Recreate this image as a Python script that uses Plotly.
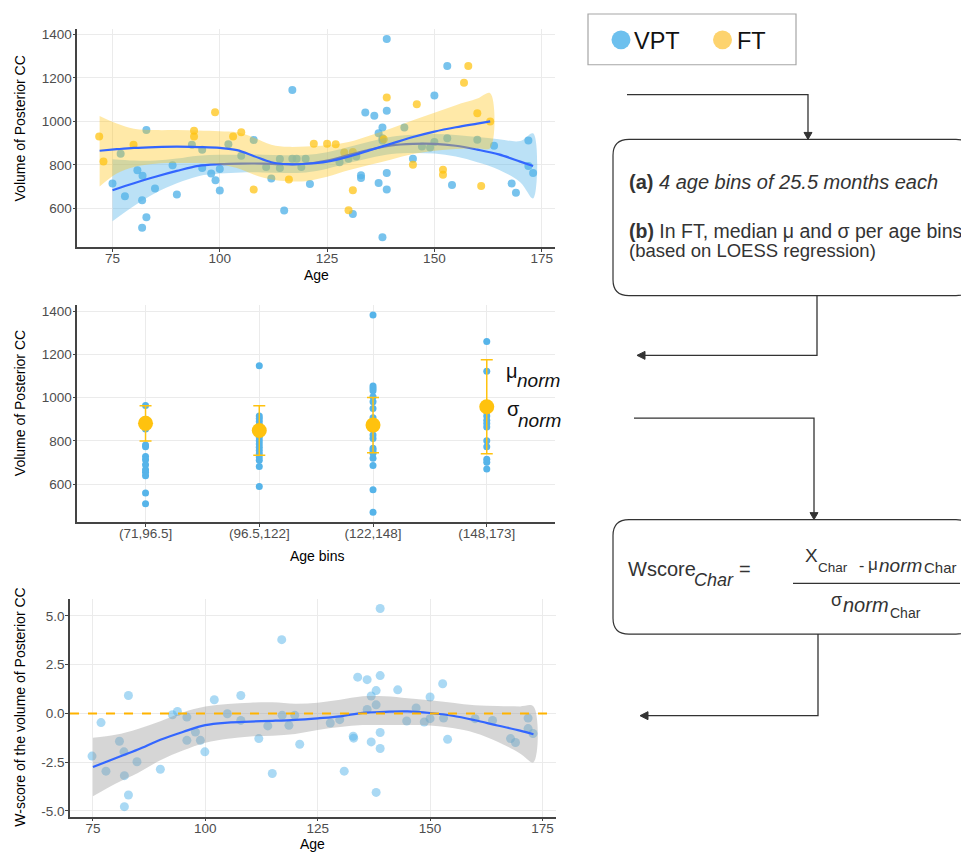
import plotly.graph_objects as go

W, H = 969, 852
OFF = 8  # page body margin: screen pixel = figure pixel + 8
def px(x): return (x - OFF) / W
def py(y): return 1 - (y - OFF) / H

# ---------------- DATA ----------------
# Top panel: raw volumes by age
vpt_age = [75.0, 76.9, 77.9, 80.8, 82.0, 81.9, 82.9, 82.9, 81.9, 84.9, 89.0, 90.0, 93.5, 95.9, 95.9,
           98.0, 99.0, 100.0, 100.0, 102.0, 105.0, 107.9, 110.8, 112.0, 114.0, 114.0, 115.0, 116.9,
           116.9, 117.9, 119.0, 120.0, 121.0, 127.9, 130.0, 131.8, 131.0, 132.9, 132.9, 133.9, 136.0,
           138.9, 137.9, 137.0, 137.9, 137.9, 138.9, 138.9, 137.0, 138.9, 137.9, 143.0, 145.0, 147.1,
           149.0, 150.0, 150.0, 153.0, 153.0, 154.1, 160.0, 163.9, 168.0, 169.0, 171.9, 171.9, 173.0]
vpt_vol = [714, 851, 656, 775, 750, 637, 961, 559, 510, 691, 798, 663, 893, 870, 785,
           760, 729, 682, 781, 895, 842, 914, 790, 737, 827, 785, 590, 1145,
           828, 828, 790, 828, 712, 812, 828, 839, 574, 752, 740, 1041, 1026,
           1049, 972, 945, 923, 912, 1379, 762, 717, 686, 467, 972, 828, 885,
           880, 905, 1119, 1255, 923, 707, 916, 888, 714, 672, 912, 795, 762]
ft_age = [71.9, 72.9, 79.9, 94.0, 94.0, 98.9, 103.1, 105.0, 107.9, 116.1, 121.9, 125.0, 127.0,
          129.0, 131.0, 131.0, 130.0, 138.9, 138.2, 145.9, 145.0, 152.0, 152.0, 156.9, 157.9,
          160.0, 163.0, 160.9]
ft_vol = [931, 816, 893, 957, 931, 1042, 931, 950, 686, 733, 897, 897, 895,
          857, 859, 683, 591, 1110, 918, 1079, 801, 778, 755, 1178, 1255,
          1038, 1000, 703]

# LOESS fits
vpt_fit_age = [75, 80, 85, 90, 95, 100, 105, 110, 115, 120, 125, 130, 135, 140, 145, 150, 155, 160, 165, 170, 173]
vpt_fit = [683, 715, 745, 772, 795, 803, 806, 806, 803, 805, 820, 845, 870, 890, 897, 897, 888, 870, 848, 815, 795]
vpt_lo = [540, 610, 670, 715, 748, 760, 765, 765, 762, 765, 782, 808, 832, 850, 855, 852, 838, 812, 778, 720, 645]
vpt_hi = [826, 820, 820, 829, 842, 846, 847, 847, 844, 845, 858, 882, 908, 930, 939, 942, 938, 928, 918, 910, 945]
ft_fit_age = [72, 76, 80, 85, 90, 95, 100, 104, 108, 112, 116, 120, 125, 130, 135, 140, 145, 150, 155, 160, 163]
ft_fit = [865, 872, 878, 882, 884, 882, 878, 868, 840, 812, 803, 805, 815, 838, 868, 898, 928, 953, 973, 990, 1000]
ft_lo = [700, 760, 790, 805, 808, 808, 802, 785, 755, 733, 725, 725, 745, 775, 800, 825, 850, 865, 873, 877, 878]
ft_hi = [1025, 990, 966, 960, 960, 958, 955, 950, 925, 893, 883, 885, 890, 905, 935, 968, 1005, 1040, 1075, 1105, 1130]

# Middle panel: age bins
bin_labels = ["(71,96.5]", "(96.5,122]", "(122,148]", "(148,173]"]
bin1_vals = [964, 900, 886, 871, 855, 781, 773, 727, 712, 689, 666, 655, 638, 558, 509]
bin2_vals = [1148, 915, 903, 890, 875, 860, 845, 830, 815, 800, 785, 770, 755, 740, 725, 710, 681, 589]
bin3_vals = [1383, 1054, 1044, 1032, 1004, 981, 950, 907, 889, 870, 855, 827, 811, 766, 755, 743, 720, 686, 574, 469]
bin4_vals = [1260, 1122, 935, 915, 895, 880, 864, 801, 773, 715, 701, 670]
mu_norm = [881, 848, 873, 958]
sigma_norm = [82, 115, 128, 218]

# Bottom panel: W-scores
w_age = [74.8, 76.8, 77.9, 80.9, 81.9, 82.0, 82.9, 82.9, 82.0, 84.8, 90.0, 92.7, 93.8, 95.9, 95.9,
         97.8, 98.9, 99.9, 102.0, 104.9, 107.9, 107.9, 111.9, 113.9, 114.9, 117.0, 117.1, 118.6,
         119.9, 121.0, 127.8, 129.9, 130.9, 132.9, 133.0, 133.9, 136.0, 136.0, 136.9, 136.9, 138.0,
         138.0, 138.0, 138.9, 138.9, 138.9, 138.9, 142.8, 144.8, 146.9, 148.7, 150.0, 150.0, 152.8,
         153.0, 153.9, 160.0, 163.9, 167.9, 169.0, 171.8, 171.8, 172.9]
w_score = [-2.19, -0.47, -2.96, -1.43, -1.97, -3.19, 0.92, -4.18, -4.78, -2.48, -2.86, -0.07, 0.10, -0.19, -1.38,
           -0.95, -1.38, -1.97, 0.70, -0.02, 0.92, -0.36, -1.29, -0.64, -3.08, 3.78, -0.10, -0.61,
           -0.10, -1.58, -0.49, -0.32, -2.96, -1.17, -1.27, 1.86, 1.73, 0.20, 0.89, -1.46, 1.17,
           0.44, -4.05, 1.94, 5.38, -0.98, -1.80, 1.21, -0.39, 0.28, -0.44, -0.27, 0.84, 1.52,
           -0.24, -1.33, -0.27, -0.36, -1.29, -1.49, -0.24, -0.78, -1.03]
w_fit_age = [75, 80, 85, 90, 95, 100, 105, 110, 115, 120, 125, 130, 135, 140, 145, 150, 155, 160, 165, 170, 173]
w_fit = [-2.75, -2.3, -1.85, -1.35, -0.95, -0.6, -0.47, -0.42, -0.38, -0.33, -0.25, -0.15, 0.03, 0.08, 0.10, 0.02, -0.12, -0.35, -0.62, -0.88, -1.07]
w_lo = [-4.25, -3.6, -3.05, -2.4, -1.9, -1.5, -1.3, -1.18, -1.14, -1.05, -0.85, -0.7, -0.6, -0.6, -0.6, -0.62, -0.75, -1.0, -1.45, -2.05, -2.5]
w_hi = [-1.25, -1.1, -0.8, -0.4, 0.05, 0.35, 0.48, 0.55, 0.57, 0.5, 0.55, 0.7, 0.88, 0.88, 0.78, 0.68, 0.55, 0.42, 0.38, 0.36, 0.36]

# ---------------- STYLE ----------------
BLUE = "#56B4E9"
ORANGE = "#FFC20E"
LINE = "#3366FF"
FONT = "Arial"
TICKC = "#4D4D4D"
DARK = "#333333"

fig = go.Figure()

def ribbon(xs, lo, hi, color, xa, ya):
    return go.Scatter(x=list(xs) + list(xs)[::-1], y=list(lo) + list(hi)[::-1], fill="toself",
                      fillcolor=color, line=dict(width=0, shape="spline"), mode="lines",
                      hoverinfo="skip", xaxis=xa, yaxis=ya, showlegend=False)

# Top panel
fig.add_trace(go.Scatter(x=vpt_age, y=vpt_vol, mode="markers", marker=dict(color=BLUE, size=8, opacity=0.8),
                         xaxis="x", yaxis="y", showlegend=False))
fig.add_trace(go.Scatter(x=ft_age, y=ft_vol, mode="markers", marker=dict(color=ORANGE, size=8, opacity=0.72),
                         xaxis="x", yaxis="y", showlegend=False))
fig.add_trace(ribbon(vpt_fit_age, vpt_lo, vpt_hi, "rgba(86,180,233,0.4)", "x", "y"))
fig.add_trace(go.Scatter(x=vpt_fit_age, y=vpt_fit, mode="lines", line=dict(color=LINE, width=2.2, shape="spline"),
                         xaxis="x", yaxis="y", showlegend=False))
fig.add_trace(ribbon(ft_fit_age, ft_lo, ft_hi, "rgba(255,194,14,0.36)", "x", "y"))
fig.add_trace(go.Scatter(x=ft_fit_age, y=ft_fit, mode="lines", line=dict(color=LINE, width=2.2, shape="spline"),
                         xaxis="x", yaxis="y", showlegend=False))

# Middle panel
for lab, vals in zip(bin_labels, [bin1_vals, bin2_vals, bin3_vals, bin4_vals]):
    fig.add_trace(go.Scatter(x=[lab] * len(vals), y=vals, mode="markers",
                             marker=dict(color=BLUE, size=7), xaxis="x2", yaxis="y2", showlegend=False))
fig.add_trace(go.Scatter(x=bin_labels, y=mu_norm, mode="markers",
                         marker=dict(color=ORANGE, size=15),
                         error_y=dict(type="data", array=sigma_norm, color=ORANGE, thickness=1.5, width=6),
                         xaxis="x2", yaxis="y2", showlegend=False))

# Bottom panel
fig.add_trace(go.Scatter(x=w_age, y=w_score, mode="markers", marker=dict(color=BLUE, size=9, opacity=0.5),
                         xaxis="x3", yaxis="y3", showlegend=False))
fig.add_trace(ribbon(w_fit_age, w_lo, w_hi, "rgba(153,153,153,0.4)", "x3", "y3"))
fig.add_trace(go.Scatter(x=w_fit_age, y=w_fit, mode="lines", line=dict(color=LINE, width=2.2, shape="spline"),
                         xaxis="x3", yaxis="y3", showlegend=False))

axis_common = dict(showline=True, linecolor="#444444", linewidth=1.6, ticks="outside", ticklen=3,
                   tickcolor="#444444", showgrid=True, gridcolor="#EBEBEB", gridwidth=1, zeroline=False,
                   tickfont=dict(family=FONT, size=13.5, color=TICKC), mirror=False)
xstyle = dict(axis_common, ticklabelstandoff=-5)
ystyle = dict(axis_common, ticklabelstandoff=-2)

fig.update_layout(
    width=W, height=H, margin=dict(l=0, r=0, t=0, b=0),
    paper_bgcolor="white", plot_bgcolor="white", showlegend=False,
    xaxis=dict(domain=[px(77.3), px(555)], range=[66.8, 178.1], tickvals=[75, 100, 125, 150, 175],
               anchor="y", **xstyle),
    yaxis=dict(domain=[py(246.2), py(27.3)], range=[421.4, 1424.6], tickvals=[600, 800, 1000, 1200, 1400],
               anchor="x", **ystyle),
    xaxis2=dict(domain=[px(77.3), px(555)], range=[-0.6, 3.6], type="category",
                categoryorder="array", categoryarray=bin_labels, anchor="y2", **xstyle),
    yaxis2=dict(domain=[py(522.6), py(304.5)], range=[423.3, 1428.7], tickvals=[600, 800, 1000, 1200, 1400],
                anchor="x2", **ystyle),
    xaxis3=dict(domain=[px(70), px(555.5)], range=[69.9, 177.9], tickvals=[75, 100, 125, 150, 175],
                anchor="y3", **xstyle),
    yaxis3=dict(domain=[py(818.4), py(599.3)], range=[-5.29, 5.89], tickvals=[-5, -2.5, 0, 2.5, 5],
                ticktext=["-5.0", "-2.5", "0.0", "2.5", "5.0"], anchor="x3", **ystyle),
)

# Dashed zero line in bottom panel
fig.add_shape(type="line", xref="x3 domain", yref="y3", x0=0, x1=1, y0=0, y1=0,
              line=dict(color="#FFB300", width=2, dash="dash"))

ann = []
def text(x, y, s, size=13, anchor="center", angle=0, color="#000000", yanchor="middle"):
    ann.append(dict(x=px(x), y=py(y), xref="paper", yref="paper", text=s, showarrow=False,
                    font=dict(family=FONT, size=size, color=color), xanchor=anchor, yanchor=yanchor,
                    textangle=angle))

# Axis titles
text(20, 127, "Volume of Posterior CC", 14, angle=-90)
text(316, 274, "Age", 14)
text(20, 403, "Volume of Posterior CC", 14, angle=-90)
text(317, 557, "Age bins", 14)
text(20, 709, "W-score of the volume of Posterior CC", 14, angle=-90)
text(312, 846, "Age", 14)

# mu / sigma labels
text(504, 371, "μ", 20, anchor="left", color="#111111")
text(515, 380, "<i>norm</i>", 19, anchor="left", color="#111111")
text(505, 409, "σ", 20, anchor="left", color="#111111")
text(516, 420, "<i>norm</i>", 19, anchor="left", color="#111111")

# Legend box
fig.add_shape(type="rect", xref="paper", yref="paper", x0=px(588), x1=px(796), y0=py(63), y1=py(12),
              line=dict(color="#A6A6A6", width=1.2), fillcolor="white")
fig.add_shape(type="circle", xref="paper", yref="paper", x0=px(611.5), x1=px(630.5), y0=py(47.5), y1=py(28.5),
              line=dict(width=0), fillcolor="#6DC0EE")
fig.add_shape(type="circle", xref="paper", yref="paper", x0=px(713), x1=px(732), y0=py(47.5), y1=py(28.5),
              line=dict(width=0), fillcolor="#FDD36E")
text(632, 39, "VPT", 23.5, anchor="left", color="#111111")
text(735, 39, "FT", 23.5, anchor="left", color="#111111")

def rounded(x0, y0, x1, y1, r):
    pts = lambda x, y: f"{px(x):.5f},{py(y):.5f}"
    return (f"M {pts(x0 + r, y0)} L {pts(x1 - r, y0)} Q {pts(x1, y0)} {pts(x1, y0 + r)} "
            f"L {pts(x1, y1 - r)} Q {pts(x1, y1)} {pts(x1 - r, y1)} L {pts(x0 + r, y1)} "
            f"Q {pts(x0, y1)} {pts(x0, y1 - r)} L {pts(x0, y0 + r)} Q {pts(x0, y0)} {pts(x0 + r, y0)} Z")

def poly(points):
    return "M " + " L ".join(f"{px(x):.5f},{py(y):.5f}" for x, y in points)

# Boxes
fig.add_shape(type="path", xref="paper", yref="paper", path=rounded(613, 138, 972, 295, 16),
              line=dict(color=DARK, width=1.2))
fig.add_shape(type="path", xref="paper", yref="paper", path=rounded(613, 520, 972, 635, 16),
              line=dict(color=DARK, width=1.2))
# connectors
for seg in [[(627, 93), (808, 93), (808, 133)],
            [(817, 295), (817, 355), (642, 355)],
            [(634, 418), (814, 418), (814, 515)],
            [(818, 635), (818, 717), (645, 717)]]:
    fig.add_shape(type="path", xref="paper", yref="paper", path=poly(seg), line=dict(color=DARK, width=1.3))
# arrowheads
for tri in [[(804, 131), (812, 131), (808, 138)],
            [(645, 351), (645, 359), (637, 355)],
            [(810, 513), (818, 513), (814, 520)],
            [(648, 713), (648, 721), (640, 717)]]:
    fig.add_shape(type="path", xref="paper", yref="paper", path=poly(tri) + " Z",
                  line=dict(color=DARK, width=1), fillcolor=DARK)

# Box texts
text(627, 181, "<b>(a)</b> <i>4 age bins of 25.5 months each</i>", 20, anchor="left", color=DARK)
text(627, 230.5, "<b>(b)</b> In FT, median μ and σ per age bins", 19.5, anchor="left", color=DARK)
text(627, 250, "(based on LOESS regression)", 18.5, anchor="left", color=DARK)

# W-score formula
text(626, 570, "Wscore", 20, anchor="left", color=DARK)
text(692, 581, "<i>Char</i>", 18, anchor="left", color=DARK)
text(737, 570, "=", 20, anchor="left", color=DARK)
text(803, 556, "X", 19, anchor="left", color=DARK)
text(816, 568, "Char", 13.5, anchor="left", color=DARK)
text(857, 566, "-", 16, anchor="left", color=DARK)
text(866, 565, "μ", 17, anchor="left", color=DARK)
text(877, 566, "<i>norm</i>", 19, anchor="left", color=DARK)
text(922, 568, "Char", 15, anchor="left", color=DARK)
fig.add_shape(type="line", xref="paper", yref="paper", x0=px(793), x1=px(960), y0=py(584), y1=py(584),
              line=dict(color=DARK, width=1.2))
text(829, 601, "σ", 18, anchor="left", color=DARK)
text(841, 606, "<i>norm</i>", 20, anchor="left", color=DARK)
text(888, 614, "Char", 14, anchor="left", color=DARK)

fig.update_layout(annotations=ann)
fig.write_html("out.html")
